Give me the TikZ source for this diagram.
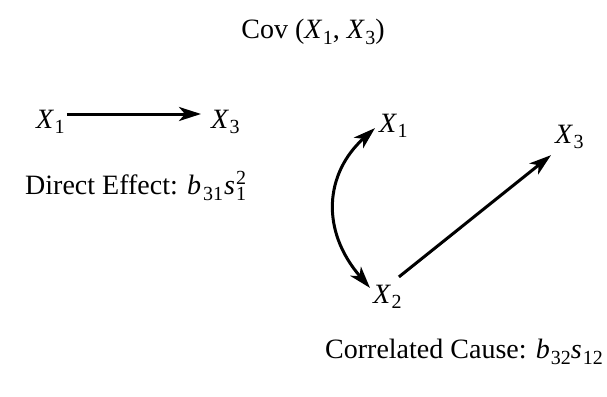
\documentclass[tikz,border=0pt]{standalone}
\usepackage{fontspec}
\setmainfont{Liberation Serif}
\usetikzlibrary{arrows.meta}
\newcommand{\sbx}[1]{\raisebox{-0.42ex}{\fontsize{20}{20}\selectfont #1}}
\newcommand{\spx}[1]{\raisebox{0.8ex}{\fontsize{20}{20}\selectfont #1}}
\newcommand{\vr}[2]{\textit{#1}\kern0.5pt\sbx{#2}}
\begin{document}
\begin{tikzpicture}[x=1pt,y=-1pt,
  lbl/.style={inner sep=0pt,font=\fontsize{28}{32}\selectfont},
  arr/.style={line width=3pt,-{Stealth[length=22pt,width=14pt,inset=6pt]}},
  darr/.style={line width=3pt,{Stealth[length=22pt,width=14pt,inset=6pt]}-{Stealth[length=22pt,width=14pt,inset=6pt]}}]
\useasboundingbox (0,0) rectangle (607,396);
\node[lbl] (cov) at (313,32) {Cov (\vr{X}{1}, \vr{X}{3})};
\node[lbl,anchor=west] (lx1) at (36,122) {\vr{X}{1}};
\node[lbl,anchor=west] (lx3) at (211,122) {\vr{X}{3}};
\node[lbl,anchor=west] (de) at (25,186) {Direct Effect: \textit{b}\kern2pt\sbx{31}\kern1pt\textit{s}\kern1pt\rlap{\spx{2}}\sbx{1}};
\node[lbl,anchor=west] (rx1) at (379,126) {\vr{X}{1}};
\node[lbl,anchor=west] (rx3) at (555,137) {\vr{X}{3}};
\node[lbl,anchor=west] (rx2) at (373,297) {\vr{X}{2}};
\node[lbl,anchor=west] (cc) at (325,352) {Correlated Cause: \textit{b}\kern1pt\sbx{32}\textit{s}\kern1pt\sbx{12}};
\draw[arr] ([xshift=2pt,yshift=8pt]lx1.east) -- ([xshift=-10pt,yshift=8pt]lx3.west);
\draw[darr] ([xshift=-4pt,yshift=10pt]rx1.south west) .. controls +(-50,45) and +(-50,-58) .. ([xshift=-3pt,yshift=-3pt]rx2.north west);
\draw[arr] ([xshift=-3pt,yshift=8pt]rx2.north east) -- ([xshift=-4pt,yshift=-6pt]rx3.south west);
\end{tikzpicture}
\end{document}
